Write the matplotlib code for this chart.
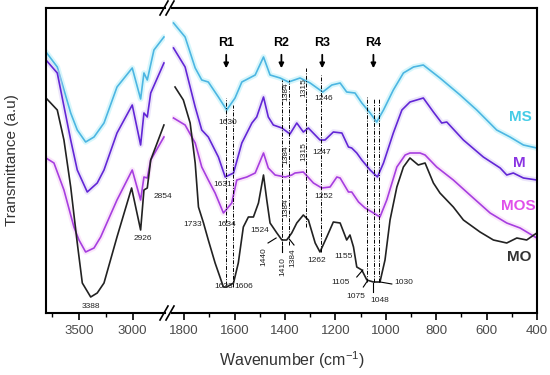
import numpy as np
import matplotlib
matplotlib.use("Agg")
import matplotlib.pyplot as plt
from matplotlib.lines import Line2D

plt.rcParams["font.family"] = ["Liberation Sans", "DejaVu Sans"]

# ---- spectra, high wavenumber part (left panel) ----
ms_hi_wn = [3807, 3702, 3577, 3516, 3438, 3360, 3267, 3146, 3004, 2926, 2895, 2864, 2802, 2709]
ms_hi_t = [261, 246, 200, 183, 171, 176, 190, 226, 245, 214, 240, 233, 263, 276]
m_hi_wn = [3807, 3702, 3577, 3516, 3423, 3330, 3267, 3146, 3004, 2926, 2895, 2864, 2832, 2709]
m_hi_t = [253, 240, 173, 143, 121, 130, 143, 180, 208, 168, 200, 196, 220, 250]
mos_hi_wn = [3807, 3733, 3640, 3547, 3500, 3438, 3360, 3298, 3146, 3004, 2926, 2895, 2864, 2832, 2709]
mos_hi_t = [155, 150, 123, 86, 73, 61, 65, 76, 113, 143, 113, 136, 135, 153, 176]
mo_hi_wn = [3807, 3702, 3640, 3577, 3516, 3469, 3391, 3330, 3267, 3146, 3010, 2926, 2895, 2864, 2832, 2709]
mo_hi_t = [215, 203, 173, 126, 70, 30, 16, 20, 30, 76, 125, 83, 123, 125, 153, 188]

# ---- spectra, fingerprint part (right panel) ----
ms_lo_wn = [1842, 1796, 1756, 1730, 1704, 1664, 1631, 1598, 1571, 1518, 1485, 1459, 1419, 1386,
            1340, 1300, 1250, 1214, 1181, 1155, 1122, 1095, 1062, 1036, 1009, 970, 930, 890,
            851, 785, 705, 639, 560, 507, 454, 401]
ms_lo_t = [290, 276, 245, 233, 231, 216, 203, 215, 231, 238, 256, 238, 235, 231,
           235, 230, 221, 228, 230, 221, 220, 210, 200, 191, 203, 223, 240, 246,
           248, 235, 218, 203, 183, 176, 168, 165]
m_lo_wn = [1842, 1796, 1756, 1730, 1704, 1664, 1637, 1604, 1571, 1531, 1512, 1485, 1466, 1446,
           1412, 1380, 1353, 1327, 1307, 1261, 1241, 1208, 1174, 1148, 1135, 1115, 1095, 1062,
           1033, 1009, 970, 936, 904, 851, 811, 778, 758, 692, 613, 546, 520, 494, 454, 401]
m_lo_t = [265, 246, 206, 183, 176, 156, 136, 140, 170, 190, 196, 216, 196, 188,
          185, 179, 190, 181, 185, 173, 173, 181, 180, 166, 165, 160, 153, 143,
          136, 150, 180, 203, 211, 215, 201, 190, 191, 173, 156, 145, 138, 140, 135, 133]
mos_lo_wn = [1842, 1796, 1756, 1730, 1704, 1677, 1644, 1611, 1591, 1551, 1518, 1485, 1466, 1439,
             1399, 1373, 1360, 1327, 1287, 1254, 1221, 1194, 1181, 1148, 1135, 1108, 1082, 1055,
             1023, 996, 956, 923, 904, 864, 844, 798, 732, 666, 586, 520, 467, 401]
mos_lo_t = [195, 188, 170, 146, 133, 120, 100, 110, 133, 136, 140, 160, 145, 138,
            136, 138, 140, 141, 130, 125, 126, 136, 135, 121, 121, 111, 105, 101,
            96, 113, 146, 158, 160, 160, 158, 146, 133, 118, 100, 90, 85, 75]
mo_lo_wn = [1836, 1803, 1776, 1756, 1743, 1723, 1704, 1677, 1644, 1631, 1604, 1585, 1565, 1545,
            1525, 1505, 1485, 1472, 1459, 1432, 1412, 1393, 1373, 1353, 1327, 1307, 1280, 1261,
            1234, 1208, 1181, 1155, 1142, 1128, 1115, 1095, 1075, 1049, 1023, 1003, 983, 956,
            930, 904, 871, 844, 811, 785, 732, 692, 626, 573, 520, 480, 441, 401]
mo_lo_t = [226, 213, 190, 150, 106, 90, 73, 50, 26, 26, 30, 50, 86, 96,
           96, 110, 138, 113, 90, 80, 73, 73, 80, 90, 98, 93, 70, 61,
           76, 91, 90, 73, 78, 66, 46, 43, 33, 31, 31, 53, 93, 126,
           146, 155, 148, 150, 130, 120, 106, 93, 81, 73, 70, 75, 73, 80]

series = [
    ("MS", ms_hi_wn, ms_hi_t, ms_lo_wn, ms_lo_t, "#4cb6e2", "#a8ecf8"),
    ("M", m_hi_wn, m_hi_t, m_lo_wn, m_lo_t, "#6226d6", "#d6c8f6"),
    ("MOS", mos_hi_wn, mos_hi_t, mos_lo_wn, mos_lo_t, "#a63ee0", "#f4c8f6"),
    ("MO", mo_hi_wn, mo_hi_t, mo_lo_wn, mo_lo_t, "#222222", None),
]

# curve names at right end
name_wn = [467, 469, 475, 471]
name_t = [196, 150, 107, 56]
name_colors = ["#45cce6", "#8a34e2", "#e050ea", "#333333"]

# dash-dot guide lines (wavenumber, y bottom, y top)
guide_wn = [1633, 1606, 1410, 1384, 1318, 1258, 1075, 1048, 1028]
guide_lo = [28, 26, 68, 68, 86, 61, 31, 31, 31]
guide_hi = [215, 208, 233, 233, 245, 238, 216, 215, 215]

# region markers
region_names = ["R1", "R2", "R3", "R4"]
region_wn = [1633, 1414, 1252, 1049]

# peak labels (text, wavenumber, y, rotation)
left_labels = [("3388", 3391, 7), ("2926", 2904, 75), ("2854", 2718, 116)]
right_labels = [
    ("1733", 1768, 89, 0), ("1634", 1633, 89, 0), ("1524", 1499, 83, 0),
    ("1633", 1645, 26, 0), ("1606", 1562, 26, 0),
    ("1440", 1482, 56, 90), ("1410", 1410, 46, 90), ("1384", 1369, 55, 90),
    ("1262", 1276, 53, 0), ("1155", 1168, 56, 0), ("1105", 1181, 31, 0),
    ("1075", 1118, 17, 0), ("1048", 1023, 12, 0), ("1030", 930, 30, 0),
    ("1630", 1628, 191, 0), ("1631", 1646, 128, 0),
    ("1246", 1247, 214, 0), ("1247", 1254, 160, 0), ("1252", 1247, 116, 0),
    ("1384", 1395, 221, 90), ("1384", 1395, 158, 90), ("1384", 1395, 105, 90),
    ("1315", 1324, 225, 90), ("1315", 1324, 161, 90),
]
# small leader ticks ((wn0, wn1), (y0, y1))
leaders = [((1467, 1435), (70, 75)), ((1410, 1410), (61, 67)), ((1383, 1364), (74, 68)),
           ((1115, 1091), (36, 43)), ((1089, 1073), (26, 32)), ((1049, 1049), (21, 30)),
           ((1022, 976), (31, 29))]

W, H = 550, 375
fig = plt.figure(figsize=(5.5, 3.75), dpi=100)
ax_l = fig.add_axes([46 / W, 62 / H, (165 - 46) / W, 305 / H])
ax_r = fig.add_axes([172 / W, 62 / H, (537 - 172) / W, 305 / H])

for name, hw, ht, lw_, lt, col, halo in series:
    if halo:
        ax_l.plot(hw, ht, color=halo, lw=4, alpha=0.45, solid_capstyle="round")
        ax_r.plot(lw_, lt, color=halo, lw=4, alpha=0.45, solid_capstyle="round")
    ax_l.plot(hw, ht, color=col, lw=1.2)
    ax_r.plot(lw_, lt, color=col, lw=1.2)

ax_l.set_xlim(3807, 2699)
ax_r.set_xlim(1848, 400)
for ax in (ax_l, ax_r):
    ax.set_ylim(0, 305)
    ax.set_yticks([])
    for s in ax.spines.values():
        s.set_linewidth(1.5)
    ax.tick_params(axis="x", direction="out", length=5, width=1.2, pad=4,
                   labelsize=9.5, labelcolor="#4a4a4a")
    ax.tick_params(axis="x", which="minor", direction="out", length=3, width=1.0)
ax_l.spines["right"].set_visible(False)
ax_r.spines["left"].set_visible(False)
ax_l.set_xticks([3500, 3000])
ax_l.set_xticks([3750, 3250], minor=True)
ax_r.set_xticks(np.arange(1800, 399, -200))
ax_r.set_xticks(np.arange(1700, 399, -200), minor=True)

# guide lines
for x, y0, y1 in zip(guide_wn, guide_lo, guide_hi):
    ax_r.plot([x, x], [y0, y1], color="black", lw=0.7, ls=(0, (4, 1.5, 1, 1.5)))

# region arrows
for r, x in zip(region_names, region_wn):
    ax_r.text(x, 270, r, ha="center", va="center", fontsize=9, fontweight="bold")
    ax_r.annotate("", xy=(x, 242), xytext=(x, 261),
                  arrowprops=dict(arrowstyle="-|>", color="black", lw=1.3, mutation_scale=7))

for t, x, y in left_labels:
    ax_l.text(x, y, t, ha="center", va="center", fontsize=6, color="#222222", clip_on=False)
for t, x, y, rot in right_labels:
    ax_r.text(x, y, t, ha="center", va="center", fontsize=6, color="#222222", rotation=rot)
for (x0, x1), (y0, y1) in leaders:
    ax_r.plot([x0, x1], [y0, y1], color="black", lw=0.8)

for nm, x, y, c in zip([s[0] for s in series], name_wn, name_t, name_colors):
    ax_r.text(x, y, nm, ha="center", va="center", fontsize=11, fontweight="bold", color=c)

# axis break marks
for py in (313, 8):
    for px in (160, 166):
        fig.add_artist(Line2D([px / W, (px + 8) / W], [1 - (py + 7) / H, 1 - (py - 7) / H],
                              color="black", lw=1.2))

fig.text(12 / W, 1 - 160 / H, "Transmittance (a.u)", rotation=90, ha="center", va="center",
         fontsize=11, color="#333333")
fig.text(292 / W, 1 - 360 / H, "Wavenumber (cm$^{\\mathregular{-1}}$)", ha="center", va="center",
         fontsize=11.5, color="#333333")

fig.savefig("out.png", dpi=100)
